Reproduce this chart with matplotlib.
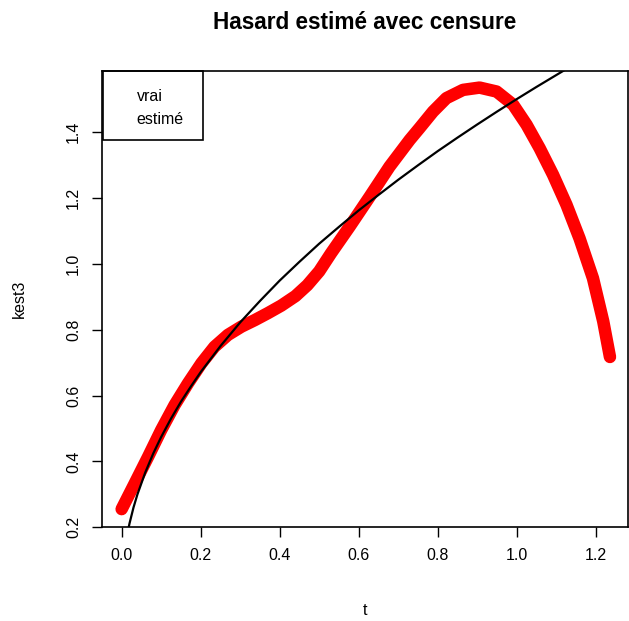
import matplotlib
matplotlib.use('Agg')
import matplotlib.pyplot as plt
from matplotlib.patches import Rectangle

plt.rcParams['font.family'] = ['Liberation Sans', 'DejaVu Sans']

# estimated hazard (red)
t_est = [0.0, 0.033, 0.067, 0.100, 0.134, 0.168, 0.202, 0.235, 0.269, 0.303,
         0.337, 0.370, 0.404, 0.44, 0.47, 0.50, 0.53, 0.577, 0.628, 0.678, 0.729,
         0.754, 0.788, 0.822, 0.864, 0.906, 0.949, 0.991, 1.025, 1.058, 1.092,
         1.126, 1.159, 1.193, 1.219, 1.236]
kest3 = [0.255, 0.333, 0.414, 0.495, 0.571, 0.637, 0.698, 0.748, 0.784, 0.809,
         0.829, 0.850, 0.873, 0.902, 0.935, 0.977, 1.032, 1.113, 1.204, 1.295, 1.376,
         1.412, 1.462, 1.503, 1.528, 1.535, 1.523, 1.483, 1.422, 1.351, 1.270,
         1.179, 1.077, 0.956, 0.825, 0.717]

# true hazard (black)
t_vrai = [0.015, 0.02, 0.03, 0.04, 0.06, 0.08, 0.10, 0.125, 0.15, 0.175, 0.20,
          0.25, 0.30, 0.35, 0.40, 0.45, 0.50, 0.55, 0.60, 0.65, 0.70, 0.75,
          0.80, 0.85, 0.90, 0.95, 1.00, 1.05, 1.10, 1.15, 1.20]
vrai = [0.184, 0.212, 0.26, 0.30, 0.367, 0.424, 0.474, 0.53, 0.581, 0.627, 0.671,
        0.75, 0.822, 0.887, 0.949, 1.006, 1.061, 1.112, 1.162, 1.209, 1.255, 1.299,
        1.342, 1.383, 1.423, 1.462, 1.50, 1.537, 1.573, 1.609, 1.643]

xticks = [0.0, 0.2, 0.4, 0.6, 0.8, 1.0, 1.2]
yticks = [0.2, 0.4, 0.6, 0.8, 1.0, 1.2, 1.4]

fig = plt.figure(figsize=(6.29, 6.21), dpi=100)
ax = fig.add_axes([0.162, 0.151, 0.836, 0.735])

ax.plot(t_est, kest3, color='red', lw=9, solid_capstyle='round',
        solid_joinstyle='round')
ax.plot(t_vrai, vrai, color='black', lw=1.6)

ax.set_xlim(-0.05, 1.281)
ax.set_ylim(0.2, 1.586)
ax.set_xticks(xticks)
ax.set_xticklabels(['%.1f' % v for v in xticks])
ax.set_yticks(yticks)
ax.set_yticklabels(['%.1f' % v for v in yticks], rotation=90, va='center')
ax.tick_params(direction='out', length=7, width=1, labelsize=11.5, pad=8)
for s in ax.spines.values():
    s.set_linewidth(1.2)

ax.set_xlabel('t', fontsize=11.5, labelpad=29)
ax.set_ylabel('kest3', fontsize=11.5, labelpad=28)
ax.set_title('Hasard estimé avec censure', fontsize=16.3, fontweight='bold', pad=30)

# legend box (no line samples, like the original)
ax.add_patch(Rectangle((0.002, 0.849), 0.19, 0.151, transform=ax.transAxes,
                       fill=False, edgecolor='black', lw=1.2, clip_on=False))
ax.text(0.066, 0.943, 'vrai', transform=ax.transAxes, fontsize=11.5, va='center')
ax.text(0.066, 0.893, 'estimé', transform=ax.transAxes, fontsize=11.5, va='center')

fig.savefig('out.png', dpi=100)
